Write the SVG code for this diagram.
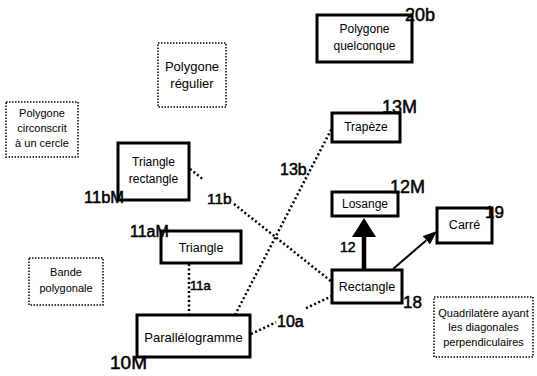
<svg xmlns="http://www.w3.org/2000/svg" width="537" height="376" viewBox="0 0 537 376">
<style>
text{font-family:"Liberation Sans",Arial,sans-serif;fill:#000;text-anchor:middle}
.thick{fill:#fff;stroke:#000;stroke-width:3}
.dot{fill:#fff;stroke:#000;stroke-width:1.5;stroke-dasharray:1.5 1.5}
.conn{fill:none;stroke:#000;stroke-width:2.5;stroke-dasharray:2 2.5}
.lbl{text-anchor:start;stroke:#000;stroke-width:0.5}
.t12{font-size:12px}
.t11{font-size:11px}
.t13{font-size:13px}
</style>
<defs>
<marker id="headThin" markerUnits="userSpaceOnUse" markerWidth="14" markerHeight="11" refX="0" refY="5.5" orient="auto">
<path d="M0,0 L14,5.5 L0,11 z" fill="#000"/>
</marker>
<marker id="headThick" markerUnits="userSpaceOnUse" markerWidth="19" markerHeight="24" refX="0" refY="12" orient="auto">
<path d="M0,0 L19,12 L0,24 z" fill="#000"/>
</marker>
</defs>

<g id="connectors">
<line class="conn" x1="189" y1="264" x2="189" y2="315"/>
<path class="conn" d="M190,169 L203,179.3 M234,204 L332,282"/>
<line class="conn" x1="235" y1="315" x2="332" y2="128"/>
<path class="conn" d="M251,334 L276,322.3 M306,308.2 L332,296"/>
<line x1="364" y1="270" x2="364" y2="237" stroke="#000" stroke-width="4.5" marker-end="url(#headThick)"/>
<line x1="393" y1="269" x2="426.4" y2="240.2" stroke="#000" stroke-width="2" marker-end="url(#headThin)"/>
</g>

<g id="polygone-quelconque">
<rect class="thick" x="317" y="15" width="95" height="47"/>
<text class="t12" x="364.5" y="33">Polygone</text>
<text class="t12" x="364.5" y="50">quelconque</text>
<text class="lbl" x="405" y="21" font-size="18">20b</text>
</g>

<g id="polygone-regulier">
<rect class="dot" x="158" y="43" width="68" height="64"/>
<text class="t13" x="192" y="71">Polygone</text>
<text class="t13" x="192" y="88">régulier</text>
</g>

<g id="polygone-circonscrit">
<rect class="dot" x="6" y="102" width="72" height="55"/>
<text class="t11" x="42" y="117">Polygone</text>
<text class="t11" x="42" y="132">circonscrit</text>
<text class="t11" x="42" y="147">à un cercle</text>
</g>

<g id="triangle-rectangle">
<rect class="thick" x="118" y="143" width="71" height="57"/>
<text class="t12" x="153.5" y="166">Triangle</text>
<text class="t12" x="153.5" y="183">rectangle</text>
<text class="lbl" x="84" y="203" font-size="16.5">11bM</text>
</g>

<g id="trapeze">
<rect class="thick" x="332" y="113" width="68" height="29"/>
<text class="t12" x="366" y="131">Trapèze</text>
<text class="lbl" x="382" y="113" font-size="18">13M</text>
</g>

<g id="losange">
<rect class="thick" x="332" y="192" width="66" height="24"/>
<text class="t12" x="365" y="208">Losange</text>
<text class="lbl" x="390" y="193" font-size="18">12M</text>
</g>

<g id="carre">
<rect class="thick" x="437" y="208" width="55" height="35"/>
<text x="464.5" y="229" font-size="12.5">Carré</text>
<text class="lbl" x="485" y="218" font-size="17">19</text>
</g>

<g id="triangle">
<rect class="thick" x="161" y="231" width="80" height="32"/>
<text x="201" y="252" font-size="12.5">Triangle</text>
<text class="lbl" x="130" y="237" font-size="16">11aM</text>
</g>

<g id="bande-polygonale">
<rect class="dot" x="29" y="258" width="74" height="47"/>
<text class="t11" x="66" y="276">Bande</text>
<text class="t11" x="66" y="292">polygonale</text>
</g>

<g id="rectangle">
<rect class="thick" x="332" y="270" width="70" height="33"/>
<text x="367" y="291" font-size="12.5">Rectangle</text>
<text class="lbl" x="403" y="308" font-size="17">18</text>
</g>

<g id="parallelogramme">
<rect class="thick" x="137" y="315" width="113" height="42"/>
<text class="t13" x="193.5" y="342">Parallélogramme</text>
<text class="lbl" x="110" y="369" font-size="19">10M</text>
</g>

<g id="quadrilatere">
<rect class="dot" x="434" y="297" width="99" height="60"/>
<text class="t11" x="483.5" y="317">Quadrilatère ayant</text>
<text class="t11" x="483.5" y="331">les diagonales</text>
<text class="t11" x="483.5" y="346">perpendiculaires</text>
</g>

<g id="edge-labels">
<text class="lbl" x="207" y="204" font-size="15.5">11b</text>
<text class="lbl" x="280" y="175" font-size="16">13b</text>
<text class="lbl" x="190" y="290" font-size="13">11a</text>
<text class="lbl" x="277" y="327" font-size="16">10a</text>
<text class="lbl" x="340" y="252" font-size="14">12</text>
</g>
</svg>
